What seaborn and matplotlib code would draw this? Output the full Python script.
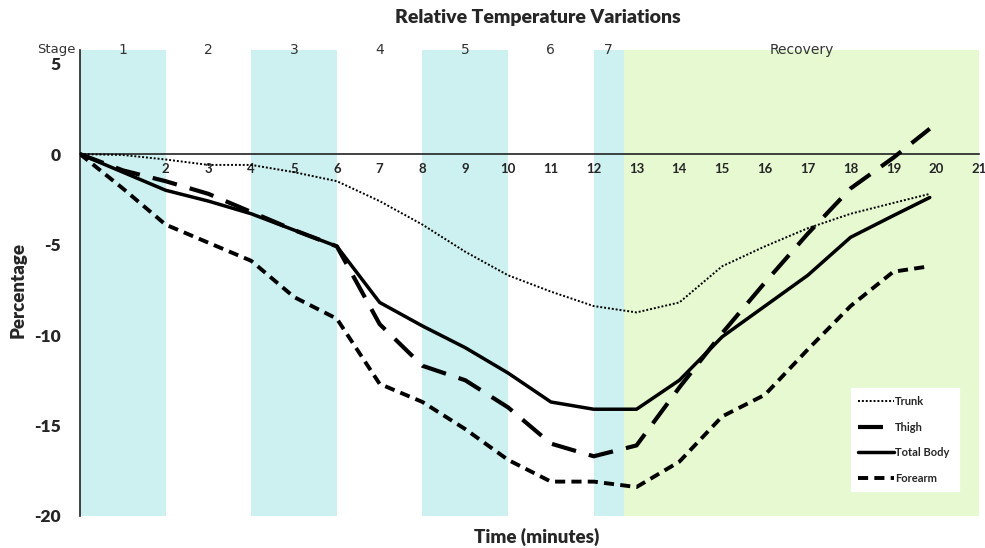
import numpy as np
import matplotlib
matplotlib.use("Agg")
import matplotlib.pyplot as plt
import seaborn as sns
import pandas as pd

# data
minutes = [0, 1, 2, 3, 4, 5, 6, 7, 8, 9, 10, 11, 12, 13, 14, 15, 16, 17, 18, 19, 19.85]
trunk = [0, -0.05, -0.3, -0.6, -0.6, -1.0, -1.5, -2.6, -3.9, -5.4, -6.7, -7.6, -8.4, -8.75, -8.2, -6.2, -5.1, -4.1, -3.3, -2.7, -2.2]
thigh = [0, -0.9, -1.5, -2.2, -3.2, -4.2, -5.1, -9.4, -11.7, -12.5, -14.0, -16.0, -16.7, -16.1, -12.9, -9.9, -7.1, -4.4, -1.9, -0.2, 1.4]
total_body = [0, -1.0, -2.0, -2.6, -3.3, -4.2, -5.1, -8.2, -9.5, -10.7, -12.1, -13.7, -14.1, -14.1, -12.5, -10.1, -8.4, -6.7, -4.6, -3.4, -2.4]
forearm = [0, -1.9, -3.9, -4.9, -5.9, -7.9, -9.1, -12.7, -13.7, -15.2, -16.9, -18.1, -18.1, -18.4, -17.0, -14.5, -13.3, -10.8, -8.4, -6.5, -6.2]

stage_names = ["1", "2", "3", "4", "5", "6", "7", "Recovery"]
stage_edges = [0, 2, 4, 6, 8, 10, 12, 12.7, 21]
stage_colors = ["#cdf0f0", "white", "#cdf0f0", "white", "#cdf0f0", "white", "#cdf0f0", "#e6f9d0"]

df = pd.DataFrame({"minutes": minutes, "Trunk": trunk, "Thigh": thigh,
                   "Total Body": total_body, "Forearm": forearm})

sns.set_theme(style="white")
plt.rcParams["font.family"] = ["Lato", "DejaVu Sans"]

fig = plt.figure(figsize=(9.85, 5.48), dpi=100)
ax = fig.add_axes([80 / 985, 1 - 516 / 548, 899 / 985, 466 / 548])

# stage shading
for i, name in enumerate(stage_names):
    ax.axvspan(stage_edges[i], stage_edges[i + 1], color=stage_colors[i], lw=0, zorder=0)
    mid = (stage_edges[i] + stage_edges[i + 1]) / 2
    ax.text(mid, 1.0, name, transform=ax.get_xaxis_transform(), ha="center", va="center",
            fontsize=10, color="#333333", family="DejaVu Sans")
ax.text(-0.1, 1.0, "Stage", transform=ax.get_xaxis_transform(), ha="right", va="center",
        fontsize=9.5, color="#333333", family="DejaVu Sans")

styles = {
    "Trunk": dict(linestyle=(0, (1, 1)), linewidth=1.4),
    "Thigh": dict(linestyle=(0, (6, 3.2)), linewidth=3.0),
    "Total Body": dict(linestyle="-", linewidth=2.5),
    "Forearm": dict(linestyle=(0, (2.6, 1.6)), linewidth=2.8),
}
for name, st in styles.items():
    sns.lineplot(data=df, x="minutes", y=name, ax=ax, color="black", label=name, zorder=3, **st)

ax.set_xlim(0, 21)
ax.set_ylim(-20, 5.75)

# x axis through zero
ax.spines["bottom"].set_position(("data", 0))
ax.spines["top"].set_visible(False)
ax.spines["right"].set_visible(False)
for s in ["bottom", "left"]:
    ax.spines[s].set_color("#222222")
    ax.spines[s].set_linewidth(1.2)

ax.set_xticks(range(1, 22))
ax.set_xticklabels([""] + [str(i) for i in range(2, 22)], fontweight="bold", fontsize=9.5)
ax.tick_params(axis="x", direction="inout", length=7, width=1.2, color="#222222", pad=3)
ax.set_yticks([5, 0, -5, -10, -15, -20])
ax.set_yticklabels(["5", "0", "-5", "-10", "-15", "-20"], fontweight="heavy", fontsize=12.5)
ax.tick_params(axis="y", length=0, pad=14)
ax.set_xlabel("")
ax.set_ylabel("")

fig.text(538 / 985, 1 - 18 / 548, "Relative Temperature Variations", ha="center", va="center",
         fontsize=14, fontweight="heavy")
fig.text(537 / 985, 1 - 537 / 548, "Time (minutes)", ha="center", va="center",
         fontsize=13.5, fontweight="heavy")
fig.text(18 / 985, 1 - 290 / 548, "Percentage", ha="center", va="center", rotation=90,
         fontsize=13.5, fontweight="heavy")

leg = ax.legend(loc="lower left", bbox_to_anchor=(0.851, 0.041, 0.133, 0.214), mode="expand",
                frameon=True, fancybox=False, framealpha=1, edgecolor="white",
                prop={"weight": "bold", "size": 8}, handlelength=3.2, labelspacing=1.3,
                handletextpad=0.1, borderpad=0.7)

fig.savefig("out.png", dpi=100)
